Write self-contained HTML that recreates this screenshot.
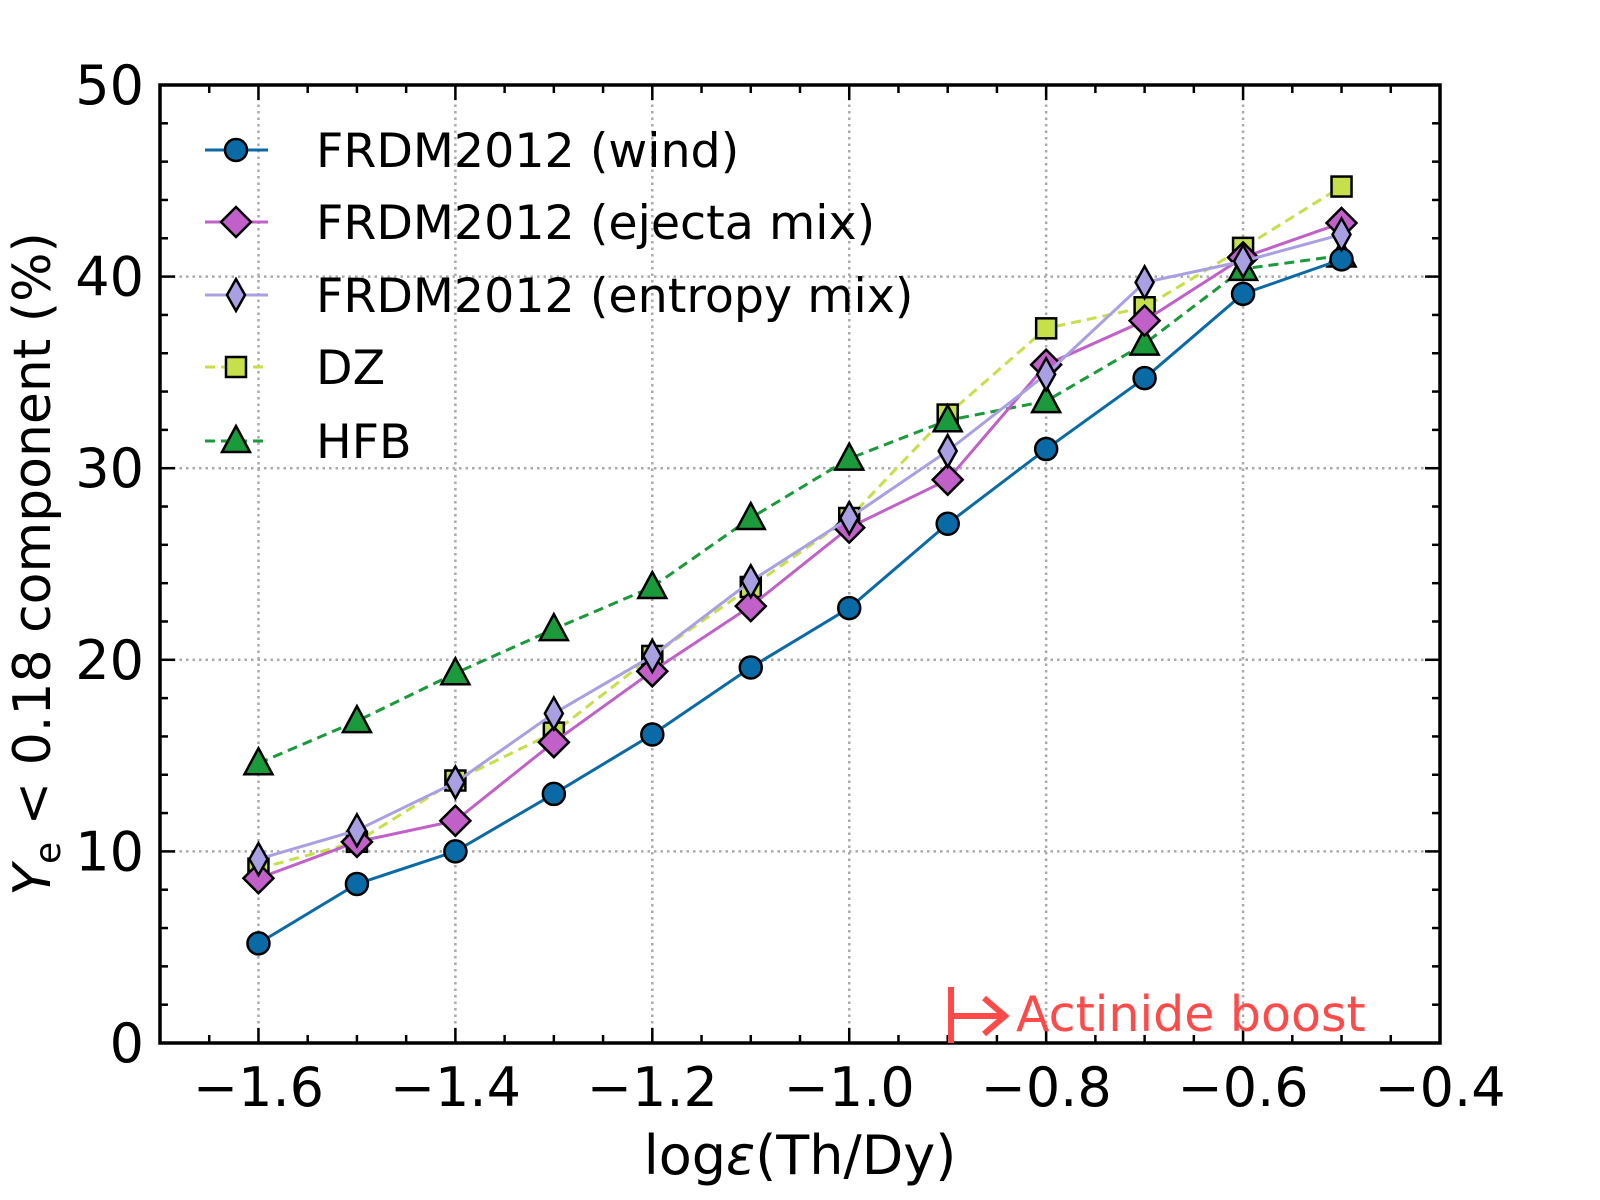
<!DOCTYPE html>
<html><head><meta charset="utf-8"><style>
html,body{margin:0;padding:0;background:#fff}
svg{display:block;font-family:"DejaVu Sans","Liberation Sans",sans-serif}
</style></head><body>
<svg id="chart" width="1600" height="1200" viewBox="0 0 1600 1200" xmlns="http://www.w3.org/2000/svg"></svg>
<script>
const xValues=[-1.6,-1.5,-1.4,-1.3,-1.2,-1.1,-1.0,-0.9,-0.8,-0.7,-0.6,-0.5];
const windVals=[5.2,8.3,10.0,13.0,16.1,19.6,22.7,27.1,31.0,34.7,39.1,40.9];
const ejectaVals=[8.6,10.5,11.6,15.7,19.4,22.8,26.9,29.4,35.4,37.7,41.0,42.8];
const entropyVals=[9.6,11.1,13.6,17.2,20.2,24.1,27.4,30.9,34.9,39.7,40.8,42.2];
const dzVals=[9.1,10.5,13.7,16.2,20.2,23.8,27.4,32.8,37.3,38.4,41.5,44.7];
const hfbVals=[14.6,16.8,19.3,21.6,23.8,27.4,30.5,32.5,33.5,36.5,40.4,41.1];
const xTickLabels=["\u22121.6","\u22121.4","\u22121.2","\u22121.0","\u22120.8","\u22120.6","\u22120.4"];
const xTickVals=[-1.6,-1.4,-1.2,-1.0,-0.8,-0.6,-0.4];
const yTickVals=[0,10,20,30,40,50];
const legendLabels=["FRDM2012 (wind)","FRDM2012 (ejecta mix)","FRDM2012 (entropy mix)","DZ","HFB"];

const L=160,R=1440,T=85,B=1043;
const X=v=>L+(v-(-1.7))/(1.3)*(R-L);
const Y=v=>B-v/50*(B-T);
const svg=document.getElementById('chart');
const NS='http://www.w3.org/2000/svg';
function mk(tag,attrs,parent){const e=document.createElementNS(NS,tag);for(const k in attrs)e.setAttribute(k,attrs[k]);(parent||svg).appendChild(e);return e;}

const grid=mk('g',{});


xTickVals.forEach(v=>{if(v>-0.45)return;mk('line',{x1:X(v),x2:X(v),y1:T,y2:B,stroke:'#aaa','stroke-width':2.5,'stroke-dasharray':'2.5,4'},grid);});
yTickVals.forEach(v=>{if(v===0||v===50)return;mk('line',{x1:L,x2:R,y1:Y(v),y2:Y(v),stroke:'#aaa','stroke-width':2.5,'stroke-dasharray':'2.5,4'},grid);});

const ticks=mk('g',{stroke:'#000'});


for(let i=0;i<=26;i++){const v=-1.7+i*0.05;const x=X(v);const maj=(i%4===2);const len=maj?15:8;
 mk('line',{x1:x,x2:x,y1:B,y2:B-len,'stroke-width':2.5},ticks);mk('line',{x1:x,x2:x,y1:T,y2:T+len,'stroke-width':2.5},ticks);}
for(let v=0;v<=50;v+=2){const y=Y(v);const len=v%10===0?15:8;
 mk('line',{x1:L,x2:L+len,y1:y,y2:y,'stroke-width':2.5},ticks);mk('line',{x1:R,x2:R-len,y1:y,y2:y,'stroke-width':2.5},ticks);}

xTickVals.forEach((v,i)=>{const t=mk('text',{x:X(v),y:1106,'font-size':54,'text-anchor':'middle',fill:'#000'});t.textContent=xTickLabels[i];

});
yTickVals.forEach(v=>{const t=mk('text',{x:L-16,y:Y(v)+19,'font-size':54,'text-anchor':'end',fill:'#000'});t.textContent=String(v);

});

const xt=mk('text',{x:(L+R)/2,y:1174,'font-size':54,'text-anchor':'middle',fill:'#000'});
xt.innerHTML='log<tspan font-style="italic">ε</tspan>(Th/Dy)';


const yt=mk('text',{transform:'translate(50,'+((T+B)/2)+') rotate(-90)','font-size':52,'text-anchor':'middle',fill:'#000'});
yt.innerHTML='<tspan font-style="italic">Y</tspan><tspan font-size="36" dy="10">e</tspan><tspan dy="-10"> &lt; 0.18 component (%)</tspan>';



function marker(type,x,y,fill,g){
 const sw=2.5;
 if(type==='circle')return mk('circle',{cx:x,cy:y,r:11,fill:fill,stroke:'#000','stroke-width':sw},g);
 if(type==='diamond')return mk('polygon',{points:`${x},${y-15} ${x+15},${y} ${x},${y+15} ${x-15},${y}`,fill:fill,stroke:'#000','stroke-width':sw},g);
 if(type==='thin')return mk('polygon',{points:`${x},${y-16} ${x+9},${y} ${x},${y+16} ${x-9},${y}`,fill:fill,stroke:'#000','stroke-width':sw},g);
 if(type==='square')return mk('rect',{x:x-10,y:y-10,width:20,height:20,fill:fill,stroke:'#000','stroke-width':sw},g);
 if(type==='tri')return mk('polygon',{points:`${x},${y-15} ${x+14},${y+11} ${x-14},${y+11}`,fill:fill,stroke:'#000','stroke-width':sw},g);
}
const series=[
 {name:'series-wind',vals:windVals,line:'#0a6aa6',fill:'#0a6aa6',m:'circle',dash:''},
 {name:'series-ejecta-mix',vals:ejectaVals,line:'#c060c8',fill:'#c060c8',m:'diamond',dash:''},
 {name:'series-entropy-mix',vals:entropyVals,line:'#a9a0e4',fill:'#a9a0e4',m:'thin',dash:''},
 {name:'series-dz',vals:dzVals,line:'#c5e04a',fill:'#c5e04a',m:'square',dash:'10,6'},
 {name:'series-hfb',vals:hfbVals,line:'#1a9a3a',fill:'#1a9a3a',m:'tri',dash:'10,6'}
];
const order=[3,4,0,1,2];
order.forEach(i=>{const s=series[i];
 const g=mk('g',{});
 
 
 const pts=s.vals.map((v,j)=>X(xValues[j])+','+Y(v)).join(' ');
 const pl=mk('polyline',{points:pts,fill:'none',stroke:s.line,'stroke-width':3,'stroke-dasharray':s.dash},g);
 
 
 s.vals.forEach((v,j)=>{const m=marker(s.m,X(xValues[j]),Y(v),s.fill,g);
  
  });
});

const fr=mk('rect',{x:L,y:T,width:R-L,height:B-T,fill:'none',stroke:'#000','stroke-width':3.5});



const lg=mk('g',{});


const rowsY=[150,222,295,367,441];
series.forEach((s,i)=>{const y=rowsY[i];
 const e=mk('g',{},lg);
 
 
 mk('line',{x1:205,x2:268,y1:y,y2:y,stroke:s.line,'stroke-width':3,'stroke-dasharray':s.dash},e);
 marker(s.m,236,y,s.fill,e);
 const t=mk('text',{x:316,y:y+17,'font-size':47.5,fill:'#000'},e);t.textContent=legendLabels[i];});

const an=mk('g',{});


mk('line',{x1:951,x2:951,y1:987,y2:1043,stroke:'#ff4a4a','stroke-width':6},an);
mk('line',{x1:951,x2:1004,y1:1016,y2:1016,stroke:'#ff4a4a','stroke-width':6},an);
mk('polyline',{points:'984,998 1005,1016 984,1034',fill:'none',stroke:'#ff4a4a','stroke-width':6},an);
const at=mk('text',{x:1016,y:1031,'font-size':49,fill:'#ff4a4a'},an);at.textContent='Actinide boost';
</script>
</body></html>
